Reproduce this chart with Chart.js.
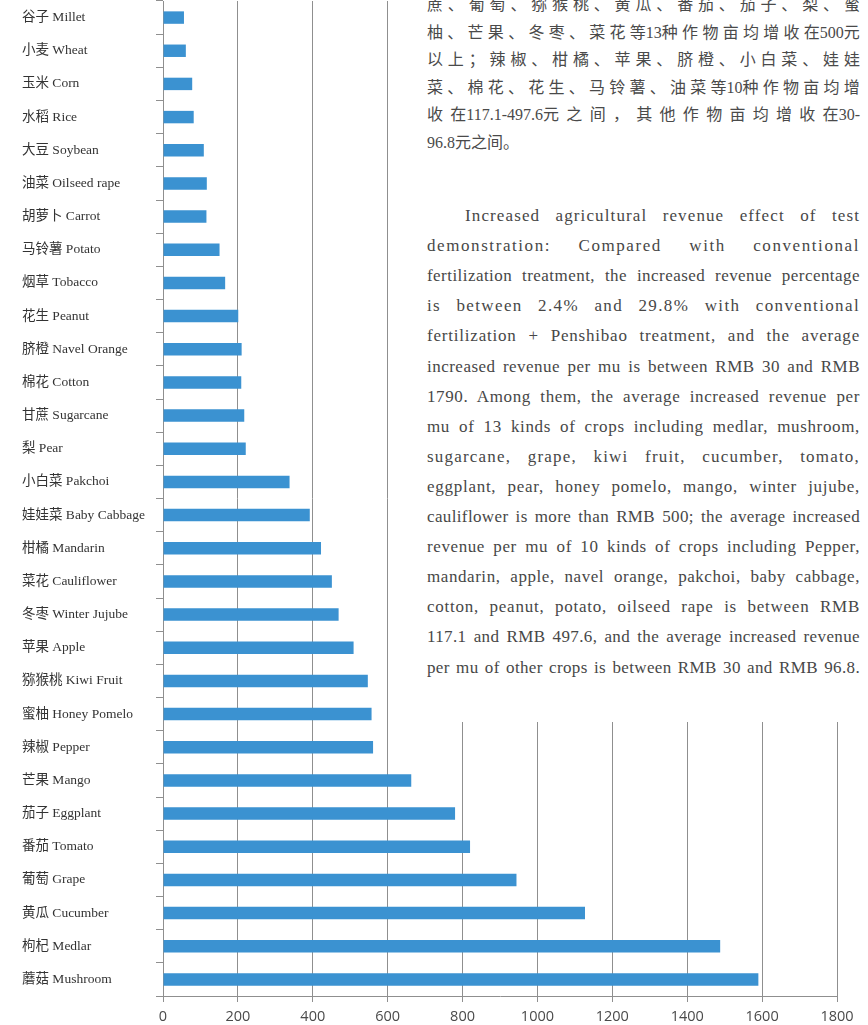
<!DOCTYPE html>
<html><head><meta charset="utf-8">
<script src="https://cdn.jsdelivr.net/npm/chart.js@4.4.1/dist/chart.umd.min.js"></script>
<style>
html,body{margin:0;padding:0;background:#fff;}
#wrap{position:relative;width:868px;height:1025px;overflow:hidden;background:#fff;}
#c{position:absolute;left:0;top:0;}
#box{position:absolute;left:391px;top:0;width:477px;height:722px;background:#fff;}
.ln{position:absolute;left:427px;width:433px;white-space:nowrap;color:#474747;}
.zh{font-family:'Liberation Serif','Noto Sans CJK SC',serif;font-size:16px;line-height:20px;color:#4a4a4a;}
.en{font-family:'Liberation Serif',serif;font-size:17px;line-height:20px;}
</style></head>
<body><div id="wrap"><canvas id="c" width="868" height="1025"></canvas><div id="box"></div></div>
<script>
const categories = ['谷子 Millet','小麦 Wheat','玉米 Corn','水稻 Rice','大豆 Soybean','油菜 Oilseed rape','胡萝卜 Carrot','马铃薯 Potato','烟草 Tobacco','花生 Peanut','脐橙 Navel Orange','棉花 Cotton','甘蔗 Sugarcane','梨 Pear','小白菜 Pakchoi','娃娃菜 Baby Cabbage','柑橘 Mandarin','菜花 Cauliflower','冬枣 Winter Jujube','苹果 Apple','猕猴桃 Kiwi Fruit','蜜柚 Honey Pomelo','辣椒 Pepper','芒果 Mango','茄子 Eggplant','番茄 Tomato','葡萄 Grape','黄瓜 Cucumber','枸杞 Medlar','蘑菇 Mushroom'];
const revenue = [56,61,78,82,109,117,116,151,166,201,210,209,217,221,338,392,422,451,469,509,547,557,561,663,780,820,944,1127,1488,1590];
const xTickValues = [0,200,400,600,800,1000,1200,1400,1600,1800];

const zhLines = ['蔗、葡萄、猕猴桃、黄瓜、番茄、茄子、梨、蜜','柚、芒果、冬枣、菜花等13种作物亩均增收在500元','以上；辣椒、柑橘、苹果、脐橙、小白菜、娃娃','菜、棉花、花生、马铃薯、油菜等10种作物亩均增','收在117.1-497.6元之间，其他作物亩均增收在30-','96.8元之间。'];
const enLines = ['Increased agricultural revenue effect of test','demonstration: Compared with conventional','fertilization treatment, the increased revenue percentage','is between 2.4% and 29.8% with conventional','fertilization + Penshibao treatment, and the average','increased revenue per mu is between RMB 30 and RMB','1790. Among them, the average increased revenue per','mu of 13 kinds of crops including medlar, mushroom,','sugarcane, grape, kiwi fruit, cucumber, tomato,','eggplant, pear, honey pomelo, mango, winter jujube,','cauliflower is more than RMB 500; the average increased','revenue per mu of 10 kinds of crops including Pepper,','mandarin, apple, navel orange, pakchoi, baby cabbage,','cotton, peanut, potato, oilseed rape is between RMB','117.1 and RMB 497.6, and the average increased revenue','per mu of other crops is between RMB 30 and RMB 96.8.'];

const wrap = document.getElementById('wrap');
const isCJK = ch => /[\u3000-\u303f\u4e00-\u9fff\uff00-\uffef]/.test(ch);
zhLines.forEach((t,i)=>{
  const d=document.createElement('div');
  d.className='ln zh';
  d.style.top=(5+i*27.5-10)+'px';
  const chars=[...t];
  const spans=[];
  chars.forEach((ch,k)=>{
    if(isCJK(ch) && k<chars.length-1 && isCJK(chars[k+1])){
      const s=document.createElement('span'); s.textContent=ch; d.appendChild(s); spans.push(s);
    } else d.appendChild(document.createTextNode(ch));
  });
  wrap.appendChild(d);
  if(i<zhLines.length-1){
    const r=document.createRange(); r.selectNodeContents(d);
    const nat=r.getBoundingClientRect().width;
    const ls=(433-nat)/spans.length;
    spans.forEach(s=>s.style.letterSpacing=ls.toFixed(3)+'px');
  }
});
enLines.forEach((t,i)=>{
  const d=document.createElement('div');
  d.className='ln en';
  d.style.top=(216+i*30.1-10)+'px';
  const indent = i===0?38:0;
  d.style.textIndent=indent+'px';
  const s=document.createElement('span');
  s.textContent=t; d.appendChild(s); wrap.appendChild(d);
  const nat=s.getBoundingClientRect().width;
  const extra=433-indent-nat;
  if(extra>0){
    const ls=extra*0.5/(t.length);
    s.style.letterSpacing=ls.toFixed(3)+'px';
    const nat2=s.getBoundingClientRect().width;
    const spaces=(t.match(/ /g)||[]).length;
    const rem=433-indent-nat2;
    if(spaces>0) s.style.wordSpacing=(rem/spaces).toFixed(3)+'px';
  }
});

const gridCol='#8f8f8f';
new Chart(document.getElementById('c'),{
  type:'bar',
  data:{labels:categories,datasets:[{data:revenue,backgroundColor:'#3b92d1',barPercentage:0.375,categoryPercentage:1}]},
  options:{
    indexAxis:'y',responsive:false,animation:false,devicePixelRatio:1,
    layout:{padding:{left:22,right:31,top:1,bottom:0}},
    plugins:{legend:{display:false},tooltip:{enabled:false}},
    scales:{
      x:{min:0,max:1800,
        afterBuildTicks(s){s.ticks=xTickValues.map(v=>({value:v}));},
        afterFit(s){s.height=29;},
        ticks:{color:'#4a4a4a',font:{family:'Open Sans',size:14.5},padding:6,callback:v=>String(v)},
        grid:{color:gridCol,tickLength:6,lineWidth:1},
        border:{color:gridCol}},
      y:{afterFit(s){s.width=141;s.paddingTop=0;s.paddingBottom=0;},
        ticks:{crossAlign:'far',color:'#333',font:{family:"'Liberation Serif','Noto Sans CJK SC',serif",size:13.5},padding:8},
        grid:{offset:true,drawOnChartArea:false,tickLength:7,color:gridCol},
        border:{color:gridCol}}
    }
  }
});
</script></body></html>
